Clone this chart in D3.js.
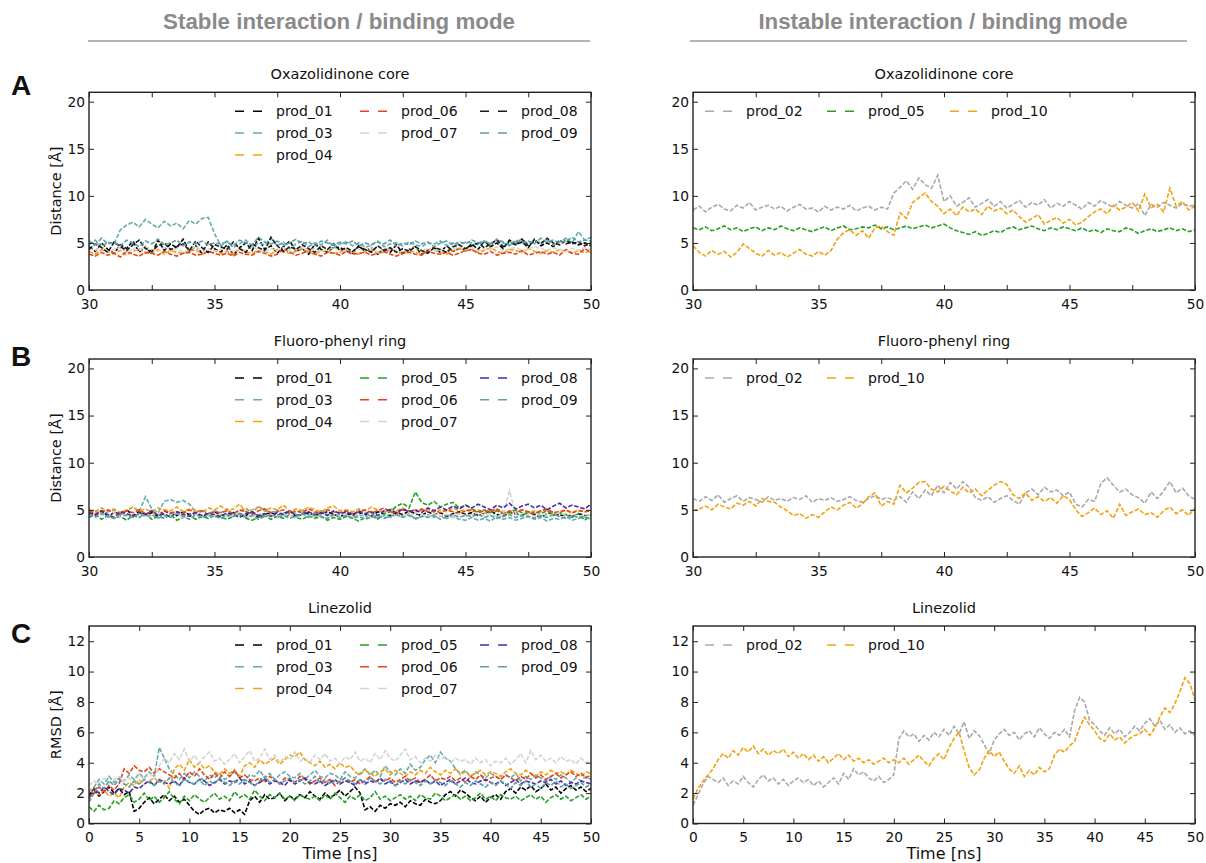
<!DOCTYPE html>
<html>
<head>
<meta charset="utf-8">
<script src="https://d3js.org/d3.v7.min.js"></script>
<style>
  body { margin: 0; background: #fff; }
  svg { display: block; }
  .tk text { font-family: "DejaVu Sans", sans-serif; font-size: 13.8px; fill: #111; }
  .tk line { stroke: #222; stroke-width: 1; }
  .tk path { display: none; }
  .lbl { font-family: "DejaVu Sans", sans-serif; fill: #111; }
  .head { font-family: "Liberation Sans", Arial, sans-serif; font-weight: bold; fill: #8a8a8a; font-size: 22.3px; }
  .letter { font-family: "Liberation Sans", Arial, sans-serif; font-weight: bold; fill: #111; font-size: 28px; }
</style>
</head>
<body>
<svg width="1206" height="863"></svg>
<script>
// ---------- data: sampled evenly over each panel's time range ----------

// A, stable (30-50 ns, 0.25 ns)
var A1_01 = [4.6,4.1,5.0,4.3,3.9,4.8,4.4,5.2,4.0,4.6,3.8,5.3,4.2,4.9,4.5,5.4,4.1,4.7,3.9,5.1,4.4,
  4.0,4.8,3.7,4.5,5.0,4.2,5.5,4.3,4.7,3.9,4.6,5.2,4.1,4.4,3.8,4.9,4.3,4.0,4.6,4.5,
  4.2,3.9,4.7,4.1,4.5,3.8,4.4,4.0,4.8,3.9,4.3,4.6,3.8,4.2,4.5,4.0,4.7,4.1,4.4,4.3,
  4.9,4.3,5.2,4.6,5.0,4.4,5.3,4.8,5.1,4.5,5.4,4.7,5.0,4.6,5.3,4.9,5.1,4.8,5.0,4.7];
var A1_03 = [4.8,5.3,4.6,5.1,4.9,
  6.4,6.9,7.2,6.7,7.5,7.0,6.6,7.3,6.8,7.1,6.5,7.4,7.0,7.6,7.7,
  6.0,4.7,5.2,4.5,4.9,5.3,4.6,5.0,4.8,5.5,4.7,5.1,4.4,4.9,5.2,4.6,5.0,4.8,5.3,4.5,4.9,
  5.1,4.7,5.0,4.5,4.8,5.2,4.6,4.9,5.0,4.7,5.1,4.8,4.6,5.0,4.9,5.2,4.7,5.0,4.8,5.1,
  5.0,4.8,5.2,4.9,5.3,5.0,4.7,5.1,5.4,4.9,5.2,5.0,5.3,4.8,5.1,5.5,5.0,6.2,5.3,5.6];
var A1_04 = [4.1,3.8,4.3,4.0,3.9,4.2,3.7,4.1,4.4,3.9,4.0,4.3,3.8,4.2,4.0,3.9,4.1,4.3,3.8,4.0,4.2,
  3.9,4.1,3.8,4.4,4.0,3.9,4.2,4.1,3.8,4.3,4.0,3.9,4.1,4.4,4.0,3.8,4.2,4.1,3.9,4.0,
  4.3,4.0,3.8,4.1,4.2,3.9,4.0,4.3,4.1,3.8,4.2,4.0,3.9,4.1,4.3,4.0,3.8,4.2,4.4,4.1,
  4.3,4.0,4.2,4.5,4.1,3.9,4.3,4.2,4.0,4.4,4.1,3.9,4.2,4.0,4.3,4.1,3.9,4.2,4.0,4.1];
var A1_06 = [3.8,3.6,4.0,3.7,3.9,3.5,4.1,3.8,3.6,4.0,3.9,3.7,4.1,3.8,3.6,3.9,4.0,3.7,3.8,4.1,3.9,
  3.7,3.9,3.6,4.0,3.8,3.7,4.1,3.9,3.6,3.8,4.4,4.0,3.7,3.9,4.2,3.8,3.6,4.0,3.9,3.7,
  4.1,3.8,3.9,4.0,3.7,3.9,4.1,3.8,3.6,3.9,4.0,3.8,3.7,4.1,3.9,3.8,4.0,3.7,3.9,4.2,
  4.3,3.9,3.8,4.1,3.7,3.9,4.0,3.8,4.2,3.7,3.9,4.1,3.8,4.0,3.7,4.3,3.9,3.8,4.4,4.0];
var A1_07 = [4.4,4.2,4.6,4.1,4.3,4.5,4.0,4.4,4.2,4.6,4.3,4.1,4.5,4.2,4.4,4.0,4.3,4.6,4.2,4.4,4.1,
  4.3,4.5,4.1,4.4,4.2,4.6,4.3,4.0,4.4,4.2,4.5,4.1,4.3,4.6,4.2,4.4,4.1,4.3,4.5,4.2,
  4.4,4.1,4.3,4.2,4.5,4.0,4.3,4.4,4.2,4.1,4.3,4.5,4.2,4.4,4.1,4.3,4.2,4.4,4.6,4.3,
  4.5,4.2,4.4,4.3,4.6,4.1,4.4,4.5,4.2,4.3,4.6,4.4,4.2,4.5,4.3,4.1,4.4,4.2,4.5,4.3];
var A1_08 = [4.3,4.9,4.5,4.0,5.1,4.6,4.2,4.8,5.3,4.4,4.1,4.7,5.0,4.3,4.6,4.9,4.2,5.2,4.5,4.0,4.8,
  4.6,4.3,5.1,4.4,4.0,4.9,4.5,4.2,5.6,4.7,4.1,4.6,4.3,4.8,4.4,4.0,4.7,4.3,4.9,4.2,
  4.5,4.1,4.6,4.3,4.0,4.7,4.2,4.5,4.0,4.4,4.1,4.6,4.2,3.9,4.5,4.3,4.0,4.6,4.8,4.4,
  4.7,5.0,4.5,4.9,5.3,4.6,5.1,4.8,5.4,4.7,5.2,4.9,5.5,5.0,4.8,5.3,4.9,5.1,4.7,5.0];
var A1_09 = [5.2,4.8,5.5,4.9,5.1,4.7,5.3,5.0,4.6,5.2,4.9,5.4,4.8,5.0,5.3,4.7,5.1,4.9,5.2,4.8,5.0,
  4.9,5.1,4.7,5.3,5.0,4.8,5.6,5.1,4.9,5.2,4.8,5.0,5.4,4.9,5.1,4.7,5.2,5.0,4.8,5.1,
  4.9,5.2,4.7,5.0,4.8,5.1,4.9,5.3,4.7,5.0,4.8,5.2,4.9,5.1,4.6,5.0,5.2,4.8,5.1,4.9,
  5.3,5.0,5.2,4.9,5.4,5.1,4.8,5.3,5.0,5.2,4.9,5.5,5.1,5.3,5.0,5.2,5.6,5.1,5.3,5.2];

// A, instable (30-50 ns, 0.25 ns)
var A2_02 = [8.5,8.9,8.3,8.8,9.1,8.6,8.4,9.0,8.7,9.3,8.5,8.8,9.0,8.6,8.9,8.4,8.8,9.1,8.6,8.7,8.3,8.9,8.5,8.8,8.6,9.0,8.4,8.7,8.9,8.5,8.8,8.6,
  10.3,10.9,11.6,10.7,11.9,11.2,10.8,12.2,
  9.4,10.0,8.9,9.3,9.8,8.8,9.2,9.6,8.9,9.4,8.7,9.1,9.5,8.8,9.3,9.0,9.6,8.7,9.2,8.9,9.4,9.0,8.6,9.3,8.9,9.5,9.1,8.8,9.4,9.0,8.7,9.2,7.9,9.1,8.8,9.3,9.0,8.7,9.2,8.9,9.0];
var A2_05 = [6.6,6.4,6.7,6.3,6.5,6.8,6.4,6.6,6.2,6.5,6.7,6.3,6.6,6.4,6.8,6.5,6.3,6.6,6.4,6.2,6.5,
  6.7,6.3,6.6,6.8,6.4,6.5,6.7,6.6,6.9,6.5,6.7,6.4,6.6,6.8,6.5,6.7,6.9,6.6,6.8,7.0,
  6.6,6.3,6.1,5.9,6.2,5.8,6.0,6.3,6.1,6.5,6.7,6.4,6.6,6.8,6.5,6.3,6.6,6.4,6.7,6.5,
  6.3,6.6,6.2,6.4,6.1,6.5,6.3,6.2,6.6,6.4,6.0,6.3,6.5,6.2,6.4,6.6,6.3,6.5,6.2,6.4];
var A2_10 = [4.7,4.0,3.6,4.2,3.8,4.1,3.5,4.0,4.9,4.4,3.9,3.6,4.2,3.7,4.0,3.5,3.9,4.3,3.8,3.6,4.1,3.7,4.2,
  5.4,6.1,6.4,5.8,6.3,5.5,6.6,6.8,6.2,
  5.8,8.2,7.6,9.3,9.8,10.3,9.4,8.9,8.1,
  8.6,7.9,8.8,8.3,8.6,8.0,8.9,8.4,8.7,8.1,8.5,7.8,7.2,7.6,8.0,7.0,7.4,7.7,7.1,7.5,6.9,7.2,
  7.8,8.3,8.6,8.1,9.0,8.5,8.8,9.3,8.4,10.2,8.7,9.1,8.3,10.8,8.9,9.4,8.5,8.9];

// B, stable (30-50 ns, 0.25 ns)
var B1_01 = [4.8,4.5,4.9,4.3,4.7,4.6,5.0,4.4,4.8,4.5,4.7,4.3,4.9,4.6,4.4,4.8,4.5,4.7,4.2,4.6,4.8,
  4.5,4.3,4.7,4.6,4.4,4.8,4.2,4.5,4.7,4.4,4.6,4.9,4.3,4.5,4.7,4.4,4.6,4.8,4.5,4.3,
  4.6,4.4,4.7,4.5,4.3,4.8,4.6,4.4,4.7,4.5,4.9,4.6,4.4,4.8,4.5,4.7,4.3,4.6,4.8,4.5,
  4.7,4.4,4.6,4.9,4.5,4.3,4.7,4.6,4.4,4.8,4.5,4.2,4.6,4.7,4.4,4.5,4.3,4.6,4.4,4.5];
var B1_03 = [4.7,4.9,4.5,4.8,5.0,4.6,4.9,5.3,4.8,6.4,5.1,4.7,5.9,6.1,5.8,6.0,5.6,4.8,5.0,4.6,4.9,
  4.7,5.1,4.5,4.8,5.2,4.6,5.4,4.9,4.7,5.0,4.5,4.8,4.6,5.1,4.4,4.7,4.9,4.5,4.3,4.6,
  4.4,4.2,4.5,4.3,4.6,4.1,4.4,4.2,4.5,4.3,4.6,4.0,4.3,4.5,4.2,4.4,4.1,4.3,4.0,3.9,
  4.2,3.9,4.1,3.8,4.3,4.0,4.2,3.9,4.1,4.3,4.0,4.2,3.8,4.1,4.0,4.3,3.9,4.1,4.2,4.0];
var B1_04 = [5.0,4.8,5.2,4.9,5.1,4.7,5.0,5.3,4.9,5.1,4.8,5.2,5.0,4.9,5.3,4.8,5.1,5.0,4.7,5.2,5.0,
  5.4,4.9,5.1,5.6,4.8,5.0,5.3,4.9,5.2,5.0,5.5,4.8,5.1,4.9,5.3,5.0,4.8,5.2,5.4,4.9,
  5.0,4.8,5.1,4.9,5.3,5.0,4.7,5.1,4.9,5.2,4.8,5.0,4.9,5.1,4.7,5.0,4.8,5.2,4.9,5.0,
  4.8,5.0,4.7,4.9,5.1,4.8,4.6,4.9,5.0,4.7,4.9,4.8,5.0,4.6,4.8,4.9,4.7,5.0,4.8,4.9];
var B1_05 = [4.2,4.5,4.0,4.4,4.1,4.3,3.9,4.4,4.2,4.6,4.0,4.3,4.1,4.5,3.9,4.2,4.4,4.0,4.3,4.1,4.4,
  4.2,4.0,4.3,4.5,4.1,3.9,4.2,4.4,4.0,4.3,4.1,4.5,4.2,4.0,4.4,4.1,4.3,3.9,4.2,4.0,
  4.3,4.1,3.8,4.2,4.4,4.0,4.6,4.8,5.4,5.7,5.2,6.9,5.8,5.5,5.9,5.3,5.6,5.8,5.2,5.5,
  5.1,4.8,5.0,4.7,4.9,4.6,4.8,5.0,4.7,4.5,4.8,4.6,4.9,4.4,4.7,4.5,4.2,4.6,3.9,4.4];
var B1_06 = [4.9,4.6,4.8,5.0,4.7,4.5,4.9,4.7,5.0,4.6,4.8,4.5,4.9,4.7,4.8,4.6,5.0,4.7,4.9,4.5,4.8,
  4.7,4.9,4.6,5.0,4.8,4.5,4.9,5.1,4.7,4.8,5.0,4.6,4.9,4.7,5.1,4.8,4.6,5.0,4.8,4.7,
  4.9,4.6,4.8,5.0,4.7,4.9,5.2,4.8,4.6,5.0,4.9,4.7,5.1,4.8,4.9,4.7,5.0,4.8,4.6,4.9,
  5.0,4.7,4.9,4.8,5.1,4.6,4.9,4.7,5.0,4.8,4.6,4.9,5.1,4.7,4.8,5.0,4.7,4.9,4.8,4.9];
var B1_07 = [4.5,4.3,4.6,4.4,4.7,4.2,4.5,4.6,4.3,4.5,4.4,4.7,4.3,4.5,4.6,4.2,4.4,4.6,4.3,4.5,4.4,
  4.6,4.3,4.5,4.7,4.4,4.2,4.6,4.4,4.5,4.3,4.6,4.4,4.2,4.5,4.3,4.6,4.4,4.5,4.3,4.4,
  4.5,4.3,4.6,4.4,4.2,4.5,4.4,4.6,4.3,4.5,4.4,4.7,4.5,4.3,4.6,4.4,4.5,4.3,4.6,4.4,
  4.5,4.7,4.4,4.6,4.3,4.5,7.0,4.6,4.4,4.5,4.3,4.6,4.4,4.5,4.7,4.4,4.6,4.3,4.5,4.4];
var B1_08 = [4.7,4.4,4.9,4.5,4.2,4.8,4.6,4.3,4.7,4.5,4.9,4.4,4.6,4.2,4.8,4.5,4.3,4.7,4.4,4.6,4.5,
  4.3,4.7,4.5,4.2,4.6,4.8,4.4,4.6,4.3,4.7,4.5,4.9,4.4,4.6,4.8,4.5,4.7,4.4,4.9,4.6,
  4.8,4.5,4.9,4.6,4.8,4.4,4.9,5.0,4.7,5.1,4.8,5.0,4.7,5.2,4.9,5.3,5.0,5.4,5.1,5.5,
  5.2,5.6,5.3,5.0,5.5,5.2,5.7,5.1,5.4,5.6,5.2,5.5,5.0,5.4,5.7,5.2,5.5,5.3,5.1,5.6];
var B1_09 = [4.5,4.2,4.6,4.3,4.1,4.5,4.4,4.2,4.6,4.3,4.5,4.1,4.4,4.2,4.6,4.3,4.0,4.5,4.2,4.4,4.3,
  4.1,4.5,4.3,4.6,4.2,4.4,4.0,4.3,4.5,4.2,4.4,4.1,4.3,4.6,4.2,4.4,4.3,4.1,4.5,4.2,
  4.4,4.1,4.3,4.0,4.2,4.4,4.1,4.3,4.5,4.2,4.4,4.1,4.3,4.2,4.4,4.0,4.3,4.5,4.2,4.4,
  4.3,4.5,4.2,4.4,4.1,4.3,4.5,4.2,4.4,4.3,4.1,4.4,4.2,4.5,4.3,4.1,4.4,4.2,4.3,4.0];

// B, instable (30-50 ns, 0.25 ns)
var B2_02 = [6.2,5.9,6.4,6.0,6.6,5.8,6.2,6.5,5.9,6.3,6.1,5.8,6.4,6.0,6.2,5.9,6.3,6.1,6.5,5.8,6.2,6.0,6.3,5.9,6.1,6.4,6.0,5.8,6.2,6.5,6.1,6.3,6.0,
  6.4,5.8,6.9,6.2,7.1,6.5,7.6,6.8,7.9,7.2,8.0,7.4,
  6.3,6.0,6.4,5.8,6.2,6.5,6.0,5.6,
  6.8,7.2,6.6,7.4,6.9,7.1,6.5,6.9,
  5.6,5.3,6.1,5.9,
  7.8,8.4,7.6,6.9,
  7.2,6.6,6.3,5.7,6.9,6.2,7.0,8.0,6.8,7.3,6.5,6.1];
var B2_10 = [4.9,5.1,5.4,5.0,5.6,5.3,5.1,5.7,5.5,5.9,5.4,6.2,5.9,
  5.8,5.3,4.9,4.4,4.6,4.1,4.5,4.2,
  4.8,5.3,5.0,5.5,5.8,5.2,5.6,6.4,6.8,5.4,5.9,5.6,
  7.6,6.8,7.3,7.9,8.0,7.2,6.9,7.5,
  7.0,6.6,7.4,6.8,7.2,6.5,7.1,7.6,8.0,7.7,
  6.6,6.2,6.8,6.0,6.4,5.9,6.3,5.7,6.5,6.1,
  5.0,4.3,4.7,5.2,4.5,4.9,4.1,5.6,4.4,4.8,5.1,4.5,4.7,4.2,4.9,5.3,4.6,5.0,4.4,5.2];

// C, stable (0-50 ns, 0.5 ns)
var C1_01 = [1.9,2.2,1.8,2.1,2.4,2.0,2.3,1.9,2.1,
  0.8,1.0,
  1.4,1.7,1.3,1.6,1.9,1.5,1.8,1.4,1.6,1.2,
  0.8,0.6,0.9,1.0,0.7,0.9,0.8,1.0,0.7,0.9,0.6,
  1.5,1.8,1.4,1.9,1.6,1.7,2.0,1.5,1.8,1.6,1.9,1.7,2.1,1.8,1.6,2.0,1.7,1.9,2.2,1.8,2.1,2.4,2.0,
  0.9,1.1,0.8,1.2,1.0,1.3,
  1.2,1.4,1.1,1.5,1.3,1.2,1.6,1.4,1.3,1.5,
  1.9,2.1,1.8,2.2,2.0,1.7,
  1.5,1.8,1.4,1.7,1.9,1.6,
  2.1,2.3,2.0,2.4,2.2,2.5,2.1,2.3,2.6,2.2,2.4,2.0,2.3,2.5,2.2,2.4,2.1,2.3];
var C1_03 = [1.6,2.4,2.9,2.6,3.1,2.7,3.0,2.8,3.2,2.9,3.3,3.0,3.4,3.1,
  5.0,4.3,3.6,
  3.2,2.9,3.3,3.0,3.4,3.1,2.8,3.2,3.0,3.3,2.9,3.1,3.4,3.0,2.8,3.2,3.1,3.5,3.0,3.3,2.9,3.2,3.4,3.1,3.0,
  3.3,2.9,3.2,3.5,3.1,3.0,3.3,3.2,2.9,3.4,3.1,3.0,3.3,3.6,3.2,3.5,3.1,3.8,3.4,3.2,3.6,3.3,3.9,3.5,3.7,
  4.2,4.5,4.0,4.7,4.3,4.1,
  3.6,3.3,3.5,3.1,3.4,3.2,3.0,3.3,3.1,2.9,3.2,3.0,3.3,2.8,3.1,2.9,3.2,3.0,2.8,3.1,2.9,3.2,3.0,2.7,3.0,2.8,3.1,2.9];
var C1_04 = [2.1,2.4,1.9,2.2,1.8,2.0,1.7,
  2.4,2.7,2.5,2.9,2.6,2.8,3.0,2.7,2.9,
  2.3,3.6,3.9,3.5,4.2,3.7,4.0,3.6,3.8,
  3.4,3.2,3.6,3.3,3.5,3.1,
  3.8,4.0,3.7,4.2,3.9,4.1,4.3,3.9,4.2,4.5,4.4,4.7,4.2,4.0,
  3.8,4.1,3.7,3.9,3.6,4.0,3.7,3.8,
  3.4,3.2,3.5,3.3,3.1,3.4,3.6,3.2,3.5,3.3,3.1,3.4,3.2,3.5,3.3,3.7,3.4,3.2,3.5,3.3,3.6,3.2,3.4,3.1,
  3.3,3.5,3.2,3.4,3.3,3.1,3.4,3.6,3.3,3.2,3.5,3.3,3.1,3.4,3.2,3.5,3.3,3.4,3.2,3.5,3.3,3.1,3.4,3.3];
var C1_05 = [1.1,0.8,1.2,0.9,1.0,
  1.5,1.3,1.7,1.9,1.4,1.6,2.0,1.5,1.8,1.4,1.7,2.1,1.6,1.3,1.8,1.5,1.9,1.6,1.4,1.7,
  2.0,1.6,1.8,1.5,2.1,1.7,1.9,1.6,2.2,1.8,1.5,1.9,1.7,2.0,1.6,1.8,1.5,1.9,1.7,1.6,
  1.8,1.5,1.9,1.6,2.0,1.7,1.4,1.8,1.6,1.9,1.5,1.7,2.1,1.6,1.8,1.5,1.7,1.9,1.6,1.8,
  1.5,1.9,1.7,1.6,2.0,1.8,1.5,1.7,1.9,1.6,1.8,1.5,1.7,2.0,1.6,1.8,1.5,1.9,1.7,1.6,
  1.8,1.5,1.7,1.9,1.6,1.8,1.4,1.7,1.9,1.6,1.8,1.5,1.7,1.9,1.6,1.8];
var C1_06 = [1.7,2.0,2.4,2.1,2.5,2.2,2.6,
  3.6,3.3,3.8,3.5,3.4,3.7,3.3,3.6,3.4,3.2,
  3.0,3.3,2.9,3.4,3.1,3.6,3.2,2.9,3.3,3.0,3.4,3.1,3.5,3.0,3.2,2.9,
  2.8,3.0,2.7,3.1,2.9,2.6,3.0,2.8,2.7,3.1,2.9,2.6,2.8,3.0,2.7,2.9,2.5,2.8,3.0,2.7,
  2.9,2.6,2.8,3.1,2.7,2.9,2.8,3.0,2.7,2.9,3.1,2.8,3.0,2.7,2.9,3.2,2.8,3.0,2.9,3.1,
  2.8,3.0,2.7,3.1,2.9,3.2,2.8,3.0,3.1,2.9,3.2,3.0,2.8,3.1,2.9,3.3,3.0,3.2,2.9,3.1,
  3.3,3.0,3.2,3.4,3.1,3.3,3.0,3.2];
var C1_07 = [2.5,2.8,2.6,3.0,2.7,2.9,3.1,2.8,3.0,2.7,3.2,2.9,3.3,3.0,
  3.8,4.3,4.0,4.6,4.2,4.9,4.1,4.5,4.0,4.4,4.7,4.1,4.3,3.9,4.2,4.6,4.0,4.4,4.8,4.1,
  4.3,4.9,4.2,4.5,4.0,4.4,4.2,4.7,4.1,4.3,4.0,4.5,4.2,4.6,4.1,4.3,3.9,4.4,4.2,4.7,
  4.1,4.3,4.0,4.6,4.2,4.8,4.3,4.1,4.5,4.9,4.2,4.4,4.0,4.3,4.1,4.5,4.2,4.4,4.0,4.3,
  4.1,4.2,3.9,4.3,4.0,4.2,3.8,4.1,4.0,4.3,3.9,4.2,4.6,4.0,4.8,4.2,4.5,4.1,4.3,4.0,
  4.4,4.1,4.2,3.9,4.3,4.0,4.1];
var C1_08 = [1.8,2.3,2.0,2.4,2.1,1.9,2.3,2.2,2.0,2.4,2.3,
  2.6,2.8,2.5,2.9,2.7,2.6,2.8,2.5,3.0,2.7,2.6,2.9,2.8,2.5,2.7,2.9,2.6,2.8,2.7,3.0,
  2.6,2.8,2.5,2.7,2.9,2.6,2.8,2.7,2.5,2.9,2.6,2.8,3.0,2.7,2.6,2.8,2.5,2.7,2.9,2.6,
  2.8,2.7,2.5,2.9,2.6,2.8,2.7,3.0,2.6,2.8,2.5,2.7,2.9,2.6,2.8,2.7,2.9,2.6,2.8,2.5,
  2.7,2.9,2.6,2.8,3.0,2.7,2.6,2.8,2.9,2.7,2.6,2.8,2.5,2.7,2.9,2.6,2.8,2.7,2.6,2.8,
  2.7,2.9,2.6,2.8,2.5,2.7,2.6,2.8,2.7,2.6];
var C1_09 = [1.4,2.0,2.6,2.3,2.8,2.5,2.9,2.6,2.4,2.8,2.6,2.9,2.7,2.5,2.8,2.6,3.0,2.7,2.5,2.9,
  2.7,2.6,2.9,2.5,2.8,2.6,3.0,2.7,2.5,2.8,2.6,2.9,2.7,2.5,2.8,3.1,2.7,2.9,2.6,2.8,
  3.0,2.7,2.9,2.6,2.8,3.1,2.7,2.9,2.6,2.8,2.7,3.0,2.8,2.6,2.9,2.7,3.0,2.8,2.6,2.9,
  2.7,2.5,2.8,2.6,2.9,2.7,2.5,2.8,2.6,2.9,2.7,2.5,2.8,2.6,2.4,2.7,2.5,2.8,2.6,2.4,
  2.7,2.5,2.8,2.6,2.3,2.7,2.5,2.8,2.4,2.6,2.3,2.7,2.5,2.8,2.4,2.6,2.3,2.5,2.7,2.4,2.6];

// C, instable (0-50 ns, 0.5 ns)
var C2_02 = [1.2,1.9,2.6,3.1,2.9,
  2.7,3.0,2.5,2.8,2.6,3.1,2.7,2.4,2.9,3.2,2.8,3.0,2.6,2.9,2.5,2.8,3.0,2.7,2.9,2.5,2.8,2.4,2.7,3.0,2.6,3.3,2.9,3.6,3.2,3.4,3.0,2.8,3.1,2.7,2.9,3.2,
  5.6,6.1,5.7,5.9,5.4,5.8,5.5,6.0,5.7,6.2,5.8,6.4,5.9,6.7,5.6,6.1,5.8,5.2,4.6,5.5,5.9,6.2,5.8,6.0,5.5,5.9,6.1,5.7,6.3,5.9,5.6,6.0,5.8,6.2,5.7,
  7.4,8.3,8.0,6.8,
  6.5,6.1,5.8,6.3,5.9,6.2,5.7,6.0,6.4,6.1,6.6,6.9,6.4,6.8,6.2,6.5,6.0,6.3,5.9,6.1,5.8];
var C2_10 = [1.6,2.3,2.8,3.2,3.6,
  4.2,4.6,4.3,4.8,4.5,5.0,
  4.7,5.1,4.6,4.9,4.5,4.8,4.6,4.9,4.4,4.7,
  4.3,4.6,4.2,4.5,4.1,4.4,4.0,4.3,4.6,4.2,4.5,4.1,4.3,4.0,4.2,3.9,4.1,4.3,4.0,4.2,
  4.0,4.3,3.9,4.2,4.5,4.1,3.8,4.3,4.6,4.2,
  5.0,5.6,6.0,4.8,
  3.7,3.2,3.5,
  4.3,4.8,4.4,4.7,4.1,
  3.6,3.3,3.8,3.1,3.5,3.2,3.7,3.4,3.6,
  4.5,4.9,4.7,5.1,5.4,
  6.3,7.0,6.5,6.1,
  5.6,5.4,5.9,5.5,5.7,5.3,5.6,5.8,
  5.9,6.2,5.8,6.3,
  7.0,7.6,7.3,7.9,
  8.7,9.6,9.2,8.1];

// axes
var distTicks = [0, 5, 10, 15, 20];
var rmsdTicks = [0, 2, 4, 6, 8, 10, 12];
var lateTimeTicks = [30, 32.5, 35, 37.5, 40, 42.5, 45, 47.5, 50];
var fullTimeTicks = [0, 5, 10, 15, 20, 25, 30, 35, 40, 45, 50];

var colour = {
  black: "#000000", teal: "#68abab", teal2: "#5c9fa6", orange: "#f2a212",
  green: "#24a024", red: "#e8431e", light: "#d4d4d4", indigo: "#4a2ca6",
  dark: "#1c1c1c", grey: "#a9a9a9"
};

// ---------- layout ----------
var svg = d3.select("svg");
var cols = [{ x0: 89, x1: 591 }, { x0: 693, x1: 1195 }];
var rows = [{ y0: 92.3, y1: 290 }, { y0: 359, y1: 557 }, { y0: 626, y1: 823.5 }];

var panels = [
  { row: 0, col: 0, title: "Oxazolidinone core", xd: [30, 50], yd: [0, 21], xt: lateTimeTicks, yt: distTicks, ylab: "Distance [Å]",
    series: [["prod_01", A1_01, colour.black], ["prod_03", A1_03, colour.teal], ["prod_04", A1_04, colour.orange],
             ["prod_06", A1_06, colour.red], ["prod_07", A1_07, colour.light], ["prod_08", A1_08, colour.dark], ["prod_09", A1_09, colour.teal2]] },
  { row: 0, col: 1, title: "Oxazolidinone core", xd: [30, 50], yd: [0, 21], xt: lateTimeTicks, yt: distTicks,
    series: [["prod_02", A2_02, colour.grey], ["prod_05", A2_05, colour.green], ["prod_10", A2_10, colour.orange]] },
  { row: 1, col: 0, title: "Fluoro-phenyl ring", xd: [30, 50], yd: [0, 21], xt: lateTimeTicks, yt: distTicks, ylab: "Distance [Å]",
    series: [["prod_01", B1_01, colour.black], ["prod_03", B1_03, colour.teal], ["prod_04", B1_04, colour.orange], ["prod_05", B1_05, colour.green],
             ["prod_06", B1_06, colour.red], ["prod_07", B1_07, colour.light], ["prod_08", B1_08, colour.indigo], ["prod_09", B1_09, colour.teal2]] },
  { row: 1, col: 1, title: "Fluoro-phenyl ring", xd: [30, 50], yd: [0, 21], xt: lateTimeTicks, yt: distTicks,
    series: [["prod_02", B2_02, colour.grey], ["prod_10", B2_10, colour.orange]] },
  { row: 2, col: 0, title: "Linezolid", xd: [0, 50], yd: [0, 13], xt: fullTimeTicks, yt: rmsdTicks, ylab: "RMSD [Å]", xlab: "Time [ns]",
    series: [["prod_01", C1_01, colour.black], ["prod_03", C1_03, colour.teal], ["prod_04", C1_04, colour.orange], ["prod_05", C1_05, colour.green],
             ["prod_06", C1_06, colour.red], ["prod_07", C1_07, colour.light], ["prod_08", C1_08, colour.indigo], ["prod_09", C1_09, colour.teal2]] },
  { row: 2, col: 1, title: "Linezolid", xd: [0, 50], yd: [0, 13], xt: fullTimeTicks, yt: rmsdTicks, xlab: "Time [ns]",
    series: [["prod_02", C2_02, colour.grey], ["prod_10", C2_10, colour.orange]] }
];

// legend column offsets (dash start) from plot left edge
var legendCols = [[146, 271, 391], [12, 134, 257]];

panels.forEach(function(p, k) {
  var c = cols[p.col], r = rows[p.row];
  var x = d3.scaleLinear().domain(p.xd).range([c.x0, c.x1]);
  var y = d3.scaleLinear().domain(p.yd).range([r.y1, r.y0]);
  var g = svg.append("g");

  g.append("clipPath").attr("id", "clip" + k)
    .append("rect").attr("x", c.x0).attr("y", r.y0).attr("width", c.x1 - c.x0).attr("height", r.y1 - r.y0);

  var line = d3.line().x(function(d) { return x(d[0]); }).y(function(d) { return y(d[1]); });
  var lines = g.append("g").attr("clip-path", "url(#clip" + k + ")");
  p.series.forEach(function(s) {
    var vals = s[1], n = vals.length;
    var pts = vals.map(function(v, i) { return [p.xd[0] + i * (p.xd[1] - p.xd[0]) / (n - 1), v]; });
    lines.append("path").datum(pts).attr("d", line)
      .attr("fill", "none").attr("stroke", s[2]).attr("stroke-width", 1.6)
      .attr("stroke-dasharray", "4.5,1.8");
  });

  var fmtX = function(d) { return d % 5 === 0 ? d : ""; };
  g.append("g").attr("class", "tk").attr("transform", "translate(0," + r.y1 + ")")
    .call(d3.axisBottom(x).tickValues(p.xt).tickFormat(fmtX).tickSizeInner(-5).tickSizeOuter(0).tickPadding(9));
  g.append("g").attr("class", "tk").attr("transform", "translate(0," + r.y0 + ")")
    .call(d3.axisTop(x).tickValues(p.xt).tickFormat("").tickSizeInner(-5).tickSizeOuter(0));
  g.append("g").attr("class", "tk").attr("transform", "translate(" + c.x0 + ",0)")
    .call(d3.axisLeft(y).tickValues(p.yt).tickSizeInner(-5).tickSizeOuter(0).tickPadding(4));
  g.append("g").attr("class", "tk").attr("transform", "translate(" + c.x1 + ",0)")
    .call(d3.axisRight(y).tickValues(p.yt).tickFormat("").tickSizeInner(-5).tickSizeOuter(0));

  g.append("rect").attr("x", c.x0).attr("y", r.y0).attr("width", c.x1 - c.x0).attr("height", r.y1 - r.y0)
    .attr("fill", "none").attr("stroke", "#222").attr("stroke-width", 1.4);

  g.append("text").attr("class", "lbl").attr("x", (c.x0 + c.x1) / 2).attr("y", r.y0 - 13)
    .attr("text-anchor", "middle").style("font-size", "14.5px").text(p.title);

  if (p.ylab) {
    g.append("text").attr("class", "lbl")
      .attr("transform", "translate(61," + (r.y0 + r.y1) / 2 + ") rotate(-90)")
      .attr("text-anchor", "middle").style("font-size", "14.5px").text(p.ylab);
  }
  if (p.xlab) {
    g.append("text").attr("class", "lbl").attr("x", (c.x0 + c.x1) / 2).attr("y", 859)
      .attr("text-anchor", "middle").style("font-size", "16px").text(p.xlab);
  }

  // legend, filled column by column, 3 columns
  var n = p.series.length, ncol = 3, base = Math.floor(n / ncol), extra = n % ncol;
  var idx = 0;
  for (var ci = 0; ci < ncol; ci++) {
    var cnt = base + (ci < extra ? 1 : 0);
    for (var ri = 0; ri < cnt; ri++, idx++) {
      var s = p.series[idx];
      var lx = c.x0 + legendCols[p.col][ci], ly = r.y0 + 19 + ri * 21.8;
      g.append("line").attr("x1", lx).attr("x2", lx + 27).attr("y1", ly).attr("y2", ly)
        .attr("stroke", s[2]).attr("stroke-width", 1.5).attr("stroke-dasharray", "9,9");
      g.append("text").attr("class", "lbl").attr("x", lx + 41).attr("y", ly).attr("dy", "0.35em")
        .style("font-size", "14px").text(s[0]);
    }
  }
});

// column headers and panel letters
var headers = [["Stable interaction / binding mode", 339, 88, 590], ["Instable interaction / binding mode", 943, 690, 1187]];
headers.forEach(function(h) {
  svg.append("text").attr("class", "head").attr("x", h[1]).attr("y", 29).attr("text-anchor", "middle").text(h[0]);
  svg.append("line").attr("x1", h[2]).attr("x2", h[3]).attr("y1", 41).attr("y2", 41)
    .attr("stroke", "#9a9a9a").attr("stroke-width", 1.6);
});
[["A", 95], ["B", 366], ["C", 643]].forEach(function(l) {
  svg.append("text").attr("class", "letter").attr("x", 11).attr("y", l[1]).text(l[0]);
});
</script>
</body>
</html>
